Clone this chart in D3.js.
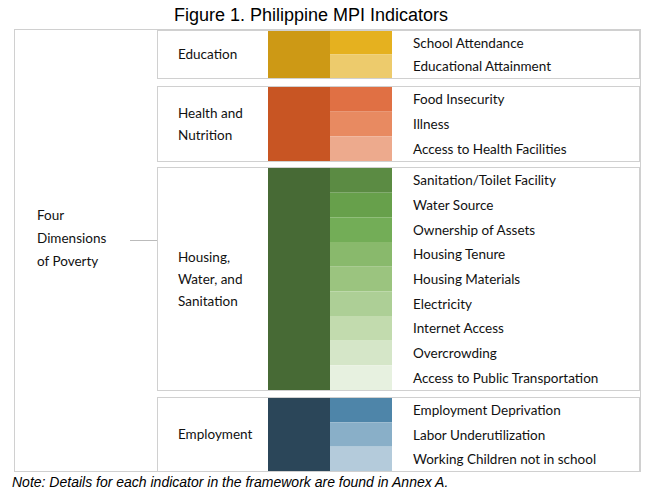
<!DOCTYPE html>
<html><head><meta charset="utf-8">
<script src="https://cdn.jsdelivr.net/npm/d3@7"></script>
<style>body{margin:0;background:#fff}</style>
</head><body>
<div id="chart"></div>
<script>
// Dimensions and their indicators
const dimensions = ["Education", "Health and|Nutrition", "Housing,|Water, and|Sanitation", "Employment"];
const dimColors = ["#CD9915", "#C85523", "#476A35", "#2B4659"];
const indicators = [
  ["School Attendance", "Educational Attainment"],
  ["Food Insecurity", "Illness", "Access to Health Facilities"],
  ["Sanitation/Toilet Facility", "Water Source", "Ownership of Assets", "Housing Tenure",
   "Housing Materials", "Electricity", "Internet Access", "Overcrowding", "Access to Public Transportation"],
  ["Employment Deprivation", "Labor Underutilization", "Working Children not in school"]
];
const indColors = [
  ["#E5B11F", "#EDCB6C"],
  ["#E07044", "#E88A61", "#EDAA8D"],
  ["#5B8B43", "#67A04B", "#73AD57", "#89B96C", "#9BC47F", "#ADCF96", "#C2DBAE", "#D5E6C8", "#E7F1E0"],
  ["#4E85A9", "#89AFC8", "#B4CBDB"]
];
// box extents (y top, y bottom)
const boxTop = [30, 86, 167, 397];
const boxBottom = [78, 161, 390, 471];

const W = 650, H = 501;
const svg = d3.select("#chart").append("svg").attr("width", W).attr("height", H)
  .style("font-family", "Lato, 'Open Sans', sans-serif");

svg.append("text").attr("x", 311).attr("y", 21).attr("text-anchor", "middle")
  .style("font-family", "Arial, 'Liberation Sans', sans-serif").style("font-size", "18px")
  .text("Figure 1. Philippine MPI Indicators");

// outer frame
svg.append("rect").attr("x", 14.5).attr("y", 29.5).attr("width", 626).attr("height", 442)
  .attr("fill", "none").attr("stroke", "#d0d0d0");

// left label
["Four", "Dimensions", "of Poverty"].forEach((t, i) => {
  svg.append("text").attr("x", 37).attr("y", 220 + i * 23).style("font-size", "13.5px")
    .attr("fill", "#111").text(t);
});
svg.append("line").attr("x1", 130).attr("x2", 157).attr("y1", 240.5).attr("y2", 240.5)
  .attr("stroke", "#bbb");

const xDark = d3.scaleLinear().domain([0, 1]).range([268, 330]);
const xLight = d3.scaleLinear().domain([0, 1]).range([330, 392]);

dimensions.forEach((d, i) => {
  const g = svg.append("g");
  const y0 = boxTop[i], y1 = boxBottom[i];
  g.append("rect").attr("x", 157.5).attr("y", y0 + 0.5).attr("width", 482).attr("height", y1 - y0)
    .attr("fill", "none").attr("stroke", "#d0d0d0");
  g.append("rect").attr("x", xDark(0)).attr("y", y0 + 1).attr("width", xDark(1) - xDark(0))
    .attr("height", y1 - y0 - 1).attr("fill", dimColors[i]);
  const n = indicators[i].length;
  const y = d3.scaleLinear().domain([0, n]).range([y0 + 1, y1]);
  indicators[i].forEach((ind, j) => {
    g.append("rect").attr("x", xLight(0)).attr("y", y(j)).attr("width", xLight(1) - xLight(0))
      .attr("height", y(j + 1) - y(j)).attr("fill", indColors[i][j]);
    g.append("text").attr("x", 413).attr("y", (y(j) + y(j + 1)) / 2 + 5)
      .style("font-size", "13.5px").attr("fill", "#111").text(ind);
  });
  const lines = d.split("|");
  const mid = (y0 + y1) / 2;
  lines.forEach((t, k) => {
    g.append("text").attr("x", 178).attr("y", mid + 5 + (k - (lines.length - 1) / 2) * 22)
      .style("font-size", "13.5px").attr("fill", "#111").text(t);
  });
});

svg.append("text").attr("x", 12).attr("y", 487).style("font-style", "italic")
  .style("font-family", "Arial, 'Liberation Sans', sans-serif").style("font-size", "14px")
  .text("Note: Details for each indicator in the framework are found in Annex A.");
</script>
</body></html>
